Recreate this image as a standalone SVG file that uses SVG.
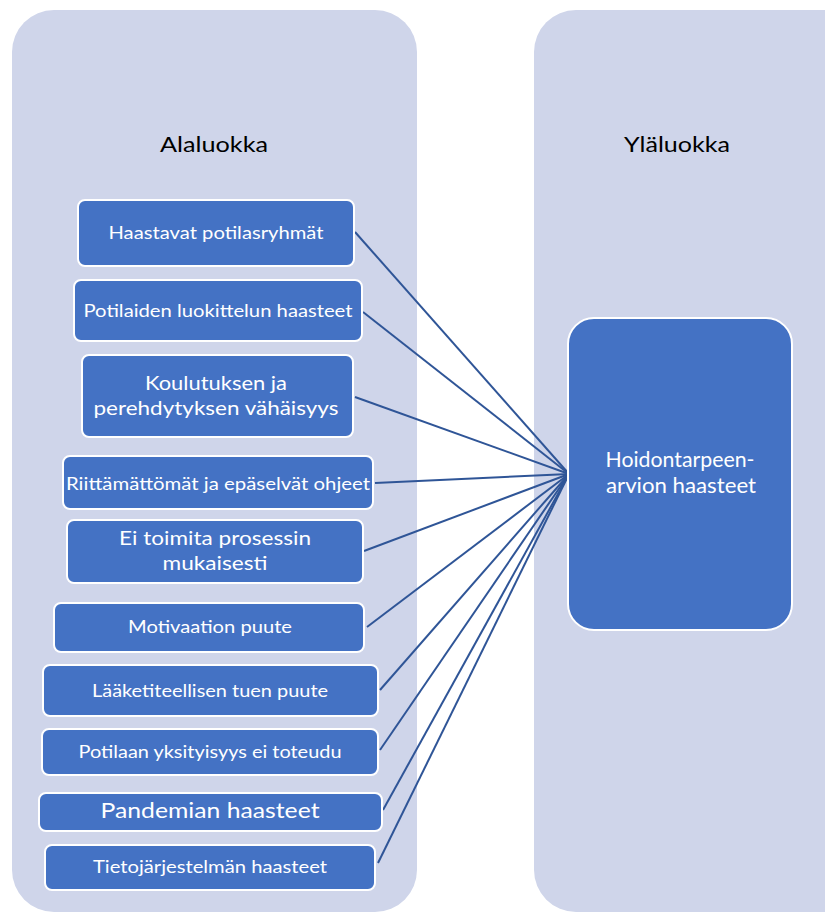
<svg xmlns="http://www.w3.org/2000/svg" width="825" height="913" viewBox="0 0 825 913">
<style>
.panel{fill:#CFD5EA}
.box{fill:#4472C4;stroke:#FFFFFF;stroke-width:2}
.t{font-family:Lato,"Liberation Sans",sans-serif;fill:#FFFFFF;text-anchor:middle}
.h{font-family:Lato,"Liberation Sans",sans-serif;fill:#000000;text-anchor:middle;font-size:22px}
.c line{stroke:#2F5597;stroke-width:2}
</style>
<rect class="panel" x="12" y="10" width="405" height="902" rx="42"/>
<rect class="panel" x="534" y="10" width="330" height="902" rx="42"/>
<text class="h" x="214" y="152" textLength="108" lengthAdjust="spacingAndGlyphs">Alaluokka</text>
<text class="h" x="677" y="152" textLength="106" lengthAdjust="spacingAndGlyphs">Yläluokka</text>
<g class="c" id="connectors">
<line x1="355" y1="232" x2="569" y2="474"/>
<line x1="363" y1="312" x2="569" y2="474"/>
<line x1="355" y1="397" x2="569" y2="474"/>
<line x1="375" y1="483" x2="569" y2="474"/>
<line x1="364" y1="551" x2="569" y2="474"/>
<line x1="367" y1="627" x2="569" y2="474"/>
<line x1="380" y1="690" x2="569" y2="474"/>
<line x1="380" y1="750" x2="569" y2="474"/>
<line x1="383" y1="810" x2="569" y2="474"/>
<line x1="378" y1="863" x2="569" y2="474"/>
</g>
<g id="n1"><rect class="box" x="78" y="200" width="276" height="66" rx="7"/><text class="t" x="216" y="239" font-size="17" textLength="215" lengthAdjust="spacingAndGlyphs">Haastavat potilasryhmät</text></g>
<g id="n2"><rect class="box" x="74" y="280" width="288" height="61" rx="7"/><text class="t" x="218" y="317" font-size="17" textLength="269" lengthAdjust="spacingAndGlyphs">Potilaiden luokittelun haasteet</text></g>
<g id="n3"><rect class="box" x="82" y="355" width="271" height="82" rx="7"/><text class="t" x="216" y="390" font-size="20" textLength="142" lengthAdjust="spacingAndGlyphs">Koulutuksen ja</text><text class="t" x="216" y="415" font-size="20" textLength="245" lengthAdjust="spacingAndGlyphs">perehdytyksen vähäisyys</text></g>
<g id="n4"><rect class="box" x="63" y="456" width="310" height="53" rx="7"/><text class="t" x="218" y="490" font-size="17" textLength="304" lengthAdjust="spacingAndGlyphs">Riittämättömät ja epäselvät ohjeet</text></g>
<g id="n5"><rect class="box" x="67" y="520" width="296" height="63" rx="7"/><text class="t" x="215" y="545" font-size="20" textLength="192" lengthAdjust="spacingAndGlyphs">Ei toimita prosessin</text><text class="t" x="215" y="570" font-size="20" textLength="105" lengthAdjust="spacingAndGlyphs">mukaisesti</text></g>
<g id="n6"><rect class="box" x="54" y="603" width="310" height="49" rx="7"/><text class="t" x="210" y="633" font-size="17" textLength="164" lengthAdjust="spacingAndGlyphs">Motivaation puute</text></g>
<g id="n7"><rect class="box" x="43" y="665" width="335" height="51" rx="7"/><text class="t" x="210" y="697" font-size="17" textLength="236" lengthAdjust="spacingAndGlyphs">Lääketiteellisen tuen puute</text></g>
<g id="n8"><rect class="box" x="42" y="729" width="336" height="46" rx="7"/><text class="t" x="210" y="758" font-size="17" textLength="263" lengthAdjust="spacingAndGlyphs">Potilaan yksityisyys ei toteudu</text></g>
<g id="n9"><rect class="box" x="39" y="793" width="343" height="38" rx="7"/><text class="t" x="210" y="818" font-size="22" textLength="219" lengthAdjust="spacingAndGlyphs">Pandemian haasteet</text></g>
<g id="n10"><rect class="box" x="45" y="845" width="330" height="45" rx="7"/><text class="t" x="210" y="873" font-size="17" textLength="234" lengthAdjust="spacingAndGlyphs">Tietojärjestelmän haasteet</text></g>
<g id="n11"><rect class="box" x="568" y="318" width="224" height="312" rx="26"/><text class="t" x="680" y="467" font-size="21" textLength="149" lengthAdjust="spacingAndGlyphs">Hoidontarpeen-</text><text class="t" x="681" y="493" font-size="21" textLength="150" lengthAdjust="spacingAndGlyphs">arvion haasteet</text></g>
</svg>
